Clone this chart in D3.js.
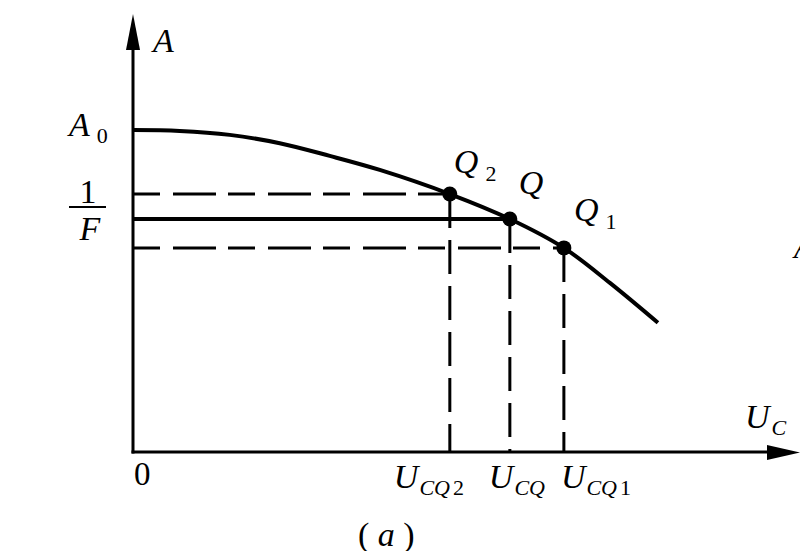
<!DOCTYPE html>
<html>
<head>
<meta charset="utf-8">
<script src="https://cdn.jsdelivr.net/npm/d3@7"></script>
<style>
  body { margin: 0; background: #fff; }
  svg { display: block; }
  text { font-family: "Liberation Serif", "Times New Roman", serif; fill: #000; }
  .it { font-style: italic; }
</style>
</head>
<body>
<svg id="chart" width="800" height="551"></svg>
<script>
// curve A(U_C)
var curveU = [0, 0.70, 1.45, 2.20, 2.95, 3.70, 4.75, 5.65, 6.46, 7.15, 7.87];
var curveA = [7.35, 7.33, 7.24, 7.05, 6.76, 6.44, 5.89, 5.32, 4.66, 3.86, 2.95];

// operating points Q2, Q, Q1
var qNames = ["2", "", "1"];
var qU = [4.75, 5.65, 6.46];
var qA = [5.89, 5.32, 4.66];

var axisMaxU = 10, axisMaxA = 10;

var svg = d3.select("#chart");

var x = d3.scaleLinear().domain([0, axisMaxU]).range([133, 800]);
var y = d3.scaleLinear().domain([0, axisMaxA]).range([452, 14]);

var g = svg.append("g");

// axes
g.append("line")
    .attr("x1", x(0)).attr("y1", y(0) + 1.5)
    .attr("x2", x(0)).attr("y2", y(axisMaxA) + 30)
    .attr("stroke", "#000").attr("stroke-width", 3);
g.append("path")
    .attr("d", "M" + x(0) + "," + y(axisMaxA) + "L" + (x(0) - 7) + "," + (y(axisMaxA) + 36) +
               "L" + (x(0) + 7) + "," + (y(axisMaxA) + 36) + "Z")
    .attr("fill", "#000");

g.append("line")
    .attr("x1", x(0) - 1.5).attr("y1", y(0))
    .attr("x2", x(axisMaxU) - 28).attr("y2", y(0))
    .attr("stroke", "#000").attr("stroke-width", 3);
g.append("path")
    .attr("d", "M" + x(axisMaxU) + "," + (y(0) + 0.5) + "L" + (x(axisMaxU) - 33) + "," + (y(0) - 7) +
               "L" + (x(axisMaxU) - 33) + "," + (y(0) + 8) + "Z")
    .attr("fill", "#000");

// guide lines to the axes
qU.forEach(function(u, i) {
    var solid = qNames[i] === "";
    g.append("line")
        .attr("x1", x(0)).attr("y1", y(qA[i]))
        .attr("x2", x(u)).attr("y2", y(qA[i]))
        .attr("stroke", "#000")
        .attr("stroke-width", solid ? 4 : 3)
        .attr("stroke-dasharray", solid ? null : "27,13,43,12");
    g.append("line")
        .attr("x1", x(u)).attr("y1", y(qA[i]))
        .attr("x2", x(u)).attr("y2", y(0))
        .attr("stroke", "#000")
        .attr("stroke-width", 3)
        .attr("stroke-dasharray", "34,12");
});

// the curve
var line = d3.line()
    .x(function(d) { return x(d[0]); })
    .y(function(d) { return y(d[1]); })
    .curve(d3.curveCatmullRom);

g.append("path")
    .datum(d3.zip(curveU, curveA))
    .attr("d", line)
    .attr("fill", "none")
    .attr("stroke", "#000")
    .attr("stroke-width", 4);

g.selectAll(".q")
    .data(d3.range(qU.length))
  .enter().append("circle")
    .attr("class", "q")
    .attr("cx", function(i) { return x(qU[i]); })
    .attr("cy", function(i) { return y(qA[i]); })
    .attr("r", 7.5)
    .attr("fill", "#000");

// labels
function label(px, py, main, sub, subItalic, gap) {
    var t = svg.append("text").attr("x", px).attr("y", py).style("font-size", "34px");
    t.append("tspan").attr("class", "it").text(main);
    if (sub) {
        t.append("tspan")
            .attr("class", subItalic ? "it" : null)
            .attr("dx", gap).attr("dy", 7)
            .style("font-size", "22px")
            .text(sub);
    }
    return t;
}

label(153, 52, "A");
label(69, 136, "A", "0", false, 7);

// 1/F
svg.append("text").attr("x", 88).attr("y", 203).attr("text-anchor", "middle")
    .style("font-size", "34px").text("1");
svg.append("line").attr("x1", 69).attr("x2", 106).attr("y1", 207).attr("y2", 207)
    .attr("stroke", "#000").attr("stroke-width", 2);
svg.append("text").attr("class", "it").attr("x", 90).attr("y", 240).attr("text-anchor", "middle")
    .style("font-size", "34px").text("F");

// Q labels
var qOff = [[4, -21], [9, -25], [10, -27]];
qU.forEach(function(u, i) {
    var t = svg.append("text")
        .attr("x", x(u) + qOff[i][0]).attr("y", y(qA[i]) + qOff[i][1])
        .style("font-size", "34px");
    t.append("tspan").attr("class", "it").text("Q");
    if (qNames[i]) {
        t.append("tspan").attr("dx", 7).attr("dy", 8).style("font-size", "22px").text(qNames[i]);
    }
});

// U_CQ labels below the axis
var uOff = [-56, -21, -3];
qU.forEach(function(u, i) {
    var t = svg.append("text")
        .attr("x", x(u) + uOff[i])
        .attr("y", 488)
        .style("font-size", "34px");
    t.append("tspan").attr("class", "it").text("U");
    t.append("tspan").attr("class", "it").attr("dx", 1).attr("dy", 7).style("font-size", "22px").text("CQ");
    if (qNames[i]) {
        t.append("tspan").attr("dx", 3).style("font-size", "22px").text(qNames[i]);
    }
});

svg.append("text").attr("x", x(0) + 1).attr("y", 485).style("font-size", "33px").text("0");
label(745, 428, "U", "C", true, 2);

svg.append("text").attr("x", 358).attr("y", 546).style("font-size", "34px")
    .html("( <tspan font-style='italic'>a</tspan> )");

// edge of the next figure
svg.append("text").attr("class", "it").attr("x", 794).attr("y", 258).style("font-size", "32px").text("A");
</script>
</body>
</html>
